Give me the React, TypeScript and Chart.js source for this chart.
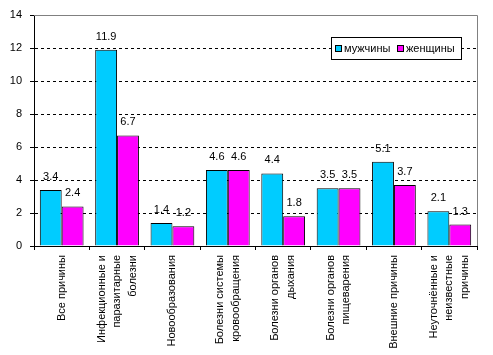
import React, { useEffect, useRef } from "react";
import { Chart, registerables } from "chart.js";

Chart.register(...registerables);

const categories: string[][] = [
  ["Все причины"],
  ["Инфекционные и", "паразитарные", "болезни"],
  ["Новообразования"],
  ["Болезни системы", "кровообращения"],
  ["Болезни органов", "дыхания"],
  ["Болезни органов", "пищеварения"],
  ["Внешние причины"],
  ["Неуточнённые и", "неизвестные", "причины"],
];
const seriesNames = ["мужчины", "женщины"];
const menValues = [3.4, 11.9, 1.4, 4.6, 4.4, 3.5, 5.1, 2.1];
const womenValues = [2.4, 6.7, 1.2, 4.6, 1.8, 3.5, 3.7, 1.3];
const seriesColors = ["#00CCFF", "#FF00FF"];
const yMin = 0;
const yMax = 14;
const yStep = 2;

const FONT = "'Liberation Sans', Arial, sans-serif";

const frameAndLabels = {
  id: "frameAndLabels",
  afterDatasetsDraw(chart: any) {
    const ctx = chart.ctx;
    const a = chart.chartArea;
    ctx.save();
    // gray frame top and right
    ctx.strokeStyle = "#808080";
    ctx.lineWidth = 1;
    ctx.beginPath();
    ctx.moveTo(a.left, Math.round(a.top) + 0.5);
    ctx.lineTo(Math.round(a.right) + 0.5, Math.round(a.top) + 0.5);
    ctx.lineTo(Math.round(a.right) + 0.5, Math.round(a.bottom));
    ctx.stroke();
    // data labels
    ctx.fillStyle = "#000";
    ctx.font = `11px ${FONT}`;
    ctx.textAlign = "center";
    ctx.textBaseline = "alphabetic";
    chart.data.datasets.forEach((ds: any, di: number) => {
      const meta = chart.getDatasetMeta(di);
      meta.data.forEach((el: any, i: number) => {
        const v = ds.data[i];
        ctx.fillText(v.toFixed(1), el.x, el.y - 10);
      });
    });
    // category labels (rotated, multi-line centered on tick)
    const xs = chart.scales.x;
    const lh = 15.5;
    ctx.textAlign = "right";
    ctx.textBaseline = "middle";
    (chart.data.labels as string[][]).forEach((lines, i) => {
      const cx = xs.getPixelForTick(i);
      const n = lines.length;
      lines.forEach((line, j) => {
        const lx = cx + (j - (n - 1) / 2) * lh;
        ctx.save();
        ctx.translate(lx, a.bottom + 9);
        ctx.rotate(-Math.PI / 2);
        ctx.fillText(line, 0, 0);
        ctx.restore();
      });
    });
    // legend box
    const bx = 331, by = 37, bw = 130, bh = 22;
    ctx.fillStyle = "#fff";
    ctx.fillRect(bx, by, bw, bh);
    ctx.strokeStyle = "#000";
    ctx.strokeRect(bx + 0.5, by + 0.5, bw, bh);
    ctx.textAlign = "left";
    ctx.textBaseline = "middle";
    const items = [
      { x: bx + 4, label: seriesNames[0], color: seriesColors[0] },
      { x: bx + 66, label: seriesNames[1], color: seriesColors[1] },
    ];
    items.forEach((it) => {
      const sy = by + bh / 2 - 3;
      ctx.fillStyle = it.color;
      ctx.fillRect(it.x, sy, 7, 7);
      ctx.strokeStyle = "#000";
      ctx.strokeRect(it.x + 0.5, sy + 0.5, 6, 6);
      ctx.fillStyle = "#000";
      ctx.fillText(it.label, it.x + 9, by + bh / 2 + 1);
    });
    ctx.restore();
  },
};

export default function App() {
  const ref = useRef<HTMLCanvasElement>(null);
  useEffect(() => {
    if (!ref.current) return;
    const chart = new Chart(ref.current, {
      type: "bar",
      data: {
        labels: categories,
        datasets: [
          {
            label: seriesNames[0],
            data: menValues,
            backgroundColor: seriesColors[0],
            borderColor: "#000",
            borderWidth: 1,
            categoryPercentage: 0.79,
            barPercentage: 1,
          },
          {
            label: seriesNames[1],
            data: womenValues,
            backgroundColor: seriesColors[1],
            borderColor: "#000",
            borderWidth: 1,
            categoryPercentage: 0.79,
            barPercentage: 1,
          },
        ],
      },
      options: {
        responsive: false,
        animation: false,
        layout: { padding: { top: 15, right: 16, left: 0, bottom: 0 } },
        plugins: {
          legend: { display: false },
          tooltip: { enabled: false },
        },
        scales: {
          x: {
            grid: {
              drawOnChartArea: false,
              offset: true,
              tickLength: 4,
              tickColor: "#000",
            },
            border: { color: "#000", width: 1 },
            ticks: {
              display: false,
              autoSkip: false,
            },
            afterFit(scale: any) {
              scale.height = 109;
            },
          },
          y: {
            min: yMin,
            max: yMax,
            grid: {
              color: (c: any) =>
                c.tick && (c.tick.value === yMax || c.tick.value === yMin) ? "rgba(0,0,0,0)" : "#000",
              tickColor: "#000",
              tickLength: 4,
            },
            border: { color: "#000", width: 1, dash: [3, 3] },
            ticks: {
              stepSize: yStep,
              color: "#000",
              font: { family: FONT, size: 11 },
              padding: 8,
            },
            afterFit(scale: any) {
              scale.width = 34;
            },
          },
        },
      },
      plugins: [frameAndLabels],
    });
    return () => chart.destroy();
  }, []);
  return (
    <canvas
      ref={ref}
      width={493}
      height={355}
      style={{ position: "absolute", left: 0, top: 0, width: 493, height: 355 }}
    />
  );
}
